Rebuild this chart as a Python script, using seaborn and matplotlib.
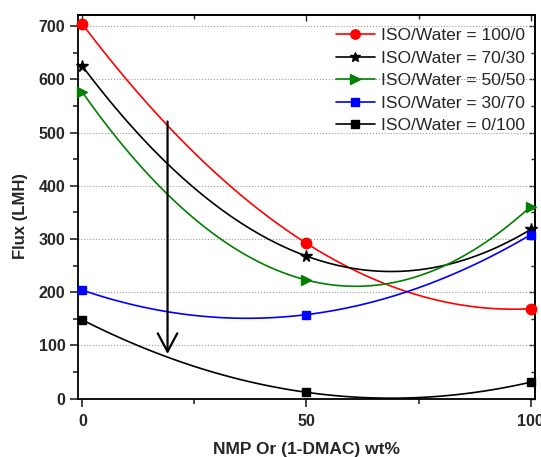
import numpy as np
import pandas as pd
import seaborn as sns
import matplotlib
matplotlib.use("Agg")
import matplotlib.pyplot as plt
from matplotlib.lines import Line2D
from matplotlib.ticker import MultipleLocator

# data
nmp_wt = [0, 50, 100]
iso_100_0 = [704, 292, 169]
iso_70_30 = [625, 268, 318]
iso_50_50 = [576, 223, 361]
iso_30_70 = [204, 158, 308]
iso_0_100 = [148, 12, 31]

series_labels = ['ISO/Water = 100/0', 'ISO/Water = 70/30', 'ISO/Water = 50/50',
                 'ISO/Water = 30/70', 'ISO/Water = 0/100']
series_values = [iso_100_0, iso_70_30, iso_50_50, iso_30_70, iso_0_100]
colors = ['#ff0000', '#000000', '#008000', '#0000ff', '#000000']
markers = ['o', '*', '>', 's', 's']
msizes = [7.5, 8.5, 7.5, 6, 6]

sns.set_style('ticks')
plt.rcParams['font.family'] = ['Liberation Sans', 'DejaVu Sans']

fig = plt.figure(figsize=(5.41, 4.57), dpi=100)
ax = fig.add_axes([0.144, 0.1276, 0.845, 0.8394])

rows = []
for lab, vals in zip(series_labels, series_values):
    for x, y in zip(nmp_wt, vals):
        rows.append({'nmp': x, 'flux': y, 'series': lab})
df = pd.DataFrame(rows)

handles = []
for lab, col, mk, ms in zip(series_labels, colors, markers, msizes):
    sub = df[df['series'] == lab]
    # smooth curve through the three points (2nd order fit, like the original spline)
    sns.regplot(data=sub, x='nmp', y='flux', order=2, ci=None, scatter=False,
                line_kws={'color': col, 'lw': 1.2, 'zorder': 3}, ax=ax)
    ax.plot(sub['nmp'], sub['flux'], linestyle='none', marker=mk, ms=ms,
            color=col, mec=col, zorder=4, clip_on=False)
    handles.append(Line2D([], [], color=col, lw=1.2, marker=mk, ms=ms * 0.9))

# arrow showing the trend
ax.annotate('', xy=(19, 84), xytext=(19, 521),
            arrowprops=dict(arrowstyle='->,head_length=0.6,head_width=0.32',
                            color='black', lw=1.6, mutation_scale=22,
                            shrinkA=0, shrinkB=0), zorder=5)

ax.set_xlim(-1, 101)
ax.set_ylim(0, 721)
ax.set_xticks([0, 50, 100])
ax.xaxis.set_minor_locator(MultipleLocator(25))
ax.set_yticks(range(0, 701, 100))
ax.yaxis.set_minor_locator(MultipleLocator(50))
ax.grid(axis='y', which='major', linestyle=':', color='#9a9a9a', lw=0.8)
ax.set_axisbelow(True)

for s in ax.spines.values():
    s.set_linewidth(1.3)
    s.set_color('black')

ax.tick_params(axis='both', which='major', direction='out', length=5.5, width=1.2,
               labelsize=11.5, pad=3.5)
ax.tick_params(axis='both', which='minor', direction='out', length=3.5, width=1.2)
ax.tick_params(axis='x', which='major', pad=5.5)
for t in ax.get_xticklabels() + ax.get_yticklabels():
    t.set_fontweight('bold')

top = ax.secondary_xaxis('top')
top.set_xticks([0, 50, 100])
top.xaxis.set_minor_locator(MultipleLocator(25))
top.tick_params(which='both', direction='in', labeltop=False, width=1.0)
top.tick_params(which='major', length=4)
top.tick_params(which='minor', length=3)
top.spines['top'].set_linewidth(1.3)
right = ax.secondary_yaxis('right')
right.set_yticks(range(0, 701, 100))
right.yaxis.set_minor_locator(MultipleLocator(50))
right.tick_params(which='both', direction='in', labelright=False, width=1.0)
right.tick_params(which='major', length=4)
right.tick_params(which='minor', length=3)
right.spines['right'].set_linewidth(1.3)

ax.set_xlabel('NMP Or (1-DMAC) wt%', fontsize=12.5, fontweight='bold')
ax.set_ylabel('Flux (LMH)', fontsize=12, fontweight='bold')
ax.xaxis.set_label_coords(0.5, -0.114)
ax.yaxis.set_label_coords(-0.11, 0.477)

ax.legend(handles=handles, labels=series_labels, loc='upper right',
          bbox_to_anchor=(1.006, 1.0), frameon=False, fontsize=12.5,
          handlelength=2.3, handletextpad=0.3, labelspacing=0.42,
          borderaxespad=0.35)

fig.savefig('out.png', dpi=100)
